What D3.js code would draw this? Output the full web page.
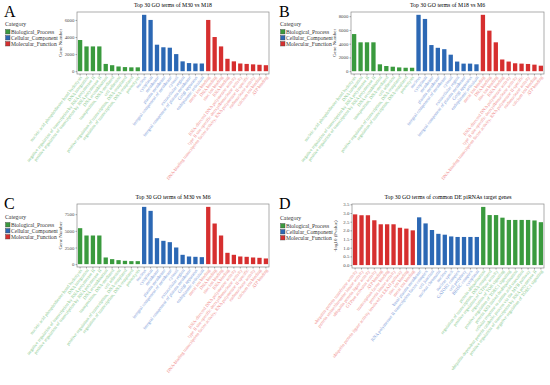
<!DOCTYPE html>
<html>
<head>
<meta charset="utf-8">
<script src="https://cdn.jsdelivr.net/npm/d3@7"></script>
<style>
body { margin: 0; background: #fff; }
text { font-family: "Liberation Serif", "DejaVu Serif", serif; }
</style>
</head>
<body>
<svg id="fig" width="550" height="385"></svg>
<script>
var categories = ["Biological_Process", "Cellular_Component", "Molecular_Function"];

// GO terms used in panels A, B, C
var bpTerms = ["nucleic acid phosphodiester bond hydrolysis", "DNA integration",
	"negative regulation of transcription by RNA polymerase II",
	"positive regulation of transcription by RNA polymerase II",
	"DNA recombination", "transposition, DNA-mediated", "cell adhesion",
	"positive regulation of transcription, DNA-templated",
	"regulation of transcription, DNA-templated", "proteolysis"];
var ccTerms = ["nucleus", "cytoplasm", "membrane", "plasma membrane",
	"integral component of membrane", "cytosol", "extracellular region",
	"integral component of plasma membrane", "Golgi apparatus", "endoplasmic reticulum"];
var mfTerms = ["metal ion binding", "DNA binding", "zinc ion binding", "RNA binding",
	"RNA-directed DNA polymerase activity",
	"type II site-specific deoxyribonuclease activity",
	"DNA-binding transcription factor activity, RNA polymerase II-specific",
	"endonuclease activity", "calcium ion binding", "ATP binding"];

var aBP = [3650, 2900, 2900, 2900, 850, 700, 550, 480, 450, 450];
var aCC = [6600, 6000, 3100, 2800, 2750, 2000, 1150, 950, 900, 900];
var aMF = [6000, 4000, 2900, 1450, 1150, 900, 850, 800, 750, 700];

var bBP = [5400, 4200, 4200, 4200, 1000, 750, 650, 550, 500, 500];
var bCC = [8200, 7600, 3800, 3400, 3200, 2400, 1400, 1100, 1100, 1000];
var bMF = [8200, 5900, 4200, 1700, 1400, 1150, 1100, 1050, 950, 800];

var cBP = [5400, 4300, 4300, 4300, 1000, 750, 600, 500, 450, 450];
var cCC = [8600, 8000, 3900, 3500, 3300, 2500, 1400, 1150, 1100, 1050];
var cMF = [8600, 6100, 4300, 1700, 1400, 1150, 1100, 1000, 950, 850];

// panel D: common DE piRNA target genes
var dMFTerms = ["ubiquitin-protein transferase activity", "protein serine/threonine kinase activity",
	"ubiquitin protein ligase activity", "GTPase activator activity", "ATP binding",
	"transcription factor binding", "protein kinase activity",
	"ubiquitin protein ligase activity involved in ERAD pathway", "zinc ion binding", "metal ion binding"];
var dCCTerms = ["basal plasma membrane", "RNA polymerase II transcription factor complex",
	"cell junction", "nuclear chromatin", "nucleus", "nuclear speck", "GATOR2 complex",
	"cell periphery", "BRISC complex", "cytoplasm"];
var dBPTerms = ["protein ubiquitination", "regulation of transcription, DNA-templated",
	"positive regulation of GTPase activity", "regulation of TOR signaling",
	"positive regulation of TORC1 signaling", "protein K63-linked deubiquitination",
	"cellular response to amino acid starvation",
	"ubiquitin-dependent protein catabolic process via the MVB pathway",
	"positive regulation of transcription by RNA polymerase II",
	"negative regulation of TORC1 signaling"];
var dMF = [2.92, 2.87, 2.87, 2.58, 2.35, 2.35, 2.35, 2.15, 2.1, 2.0];
var dCC = [2.75, 2.4, 2.02, 1.8, 1.75, 1.65, 1.62, 1.62, 1.62, 1.62];
var dBP = [3.35, 2.88, 2.88, 2.73, 2.6, 2.6, 2.6, 2.6, 2.57, 2.47];

var ticksA = [0, 2000, 4000, 6000];
var ticksB = [0, 2000, 4000, 6000, 8000];
var ticksC = [0, 2500, 5000, 7500];
var ticksD = [0, 0.5, 1.0, 1.5, 2.0, 2.5, 3.0, 3.5];

var barColor = {"Biological_Process": "#3a9a3e", "Cellular_Component": "#2c68b4", "Molecular_Function": "#d62f2f"};
var textColor = {"Biological_Process": "#86c98c", "Cellular_Component": "#7d9bd8", "Molecular_Function": "#f08c8c"};

var svg = d3.select("#fig");

function rows(groups) {
	var out = [];
	groups.forEach(function(g) {
		g.terms.forEach(function(t, i) {
			out.push({term: t, value: g.values[i], cat: g.cat});
		});
	});
	return out;
}

function drawPanel(cfg) {
	var g = svg.append("g");
	var data = cfg.data;
	var x = d3.scaleBand()
		.domain(d3.range(data.length))
		.range([cfg.x0, cfg.x1])
		.paddingInner(0.33)
		.paddingOuter(0.15);
	var vmax = d3.max(data, function(d) { return d.value; });
	var y = d3.scaleLinear()
		.domain([-0.05 * vmax, 1.05 * vmax])
		.range([cfg.y1, cfg.y0]);

	g.append("text")
		.attr("x", cfg.lx)
		.attr("y", cfg.ly)
		.attr("font-size", 16)
		.text(cfg.letter);

	g.append("text")
		.attr("x", (cfg.x0 + cfg.x1) / 2)
		.attr("y", cfg.y0 - 5)
		.attr("text-anchor", "middle")
		.attr("font-size", 5.8)
		.text(cfg.title);

	g.append("rect")
		.attr("x", cfg.x0)
		.attr("y", cfg.y0)
		.attr("width", cfg.x1 - cfg.x0)
		.attr("height", cfg.y1 - cfg.y0)
		.attr("fill", "#fff")
		.attr("stroke", "#8a8a8a")
		.attr("stroke-width", 0.7);

	g.selectAll(".bar")
		.data(data)
		.enter()
		.append("rect")
		.attr("class", "bar")
		.attr("x", function(d, i) { return x(i); })
		.attr("width", x.bandwidth())
		.attr("y", function(d) { return y(d.value); })
		.attr("height", function(d) { return y(0) - y(d.value); })
		.attr("fill", function(d) { return barColor[d.cat]; });

	var yAxis = d3.axisLeft(y)
		.tickValues(cfg.ticks)
		.tickSize(1.5)
		.tickPadding(1.2)
		.tickFormat(cfg.fmt);
	g.append("g")
		.attr("transform", "translate(" + cfg.x0 + ",0)")
		.call(yAxis)
		.call(function(a) {
			a.select(".domain").remove();
			a.selectAll("line").attr("stroke", "#555").attr("stroke-width", 0.5);
			a.selectAll("text").attr("font-size", 4.8).attr("fill", "#444")
				.style("font-family", "Liberation Serif");
		});

	g.append("text")
		.attr("transform", "translate(" + (cfg.x0 - 15.5) + "," + ((cfg.y0 + cfg.y1) / 2) + ") rotate(-90)")
		.attr("text-anchor", "middle")
		.attr("font-size", 5)
		.attr("fill", "#333")
		.text(cfg.ylabel);

	g.selectAll(".xtick")
		.data(data)
		.enter()
		.append("line")
		.attr("x1", function(d, i) { return x(i) + x.bandwidth() / 2; })
		.attr("x2", function(d, i) { return x(i) + x.bandwidth() / 2; })
		.attr("y1", cfg.y1)
		.attr("y2", cfg.y1 + 1.5)
		.attr("stroke", "#555")
		.attr("stroke-width", 0.5);

	g.selectAll(".xlab")
		.data(data)
		.enter()
		.append("text")
		.attr("class", "xlab")
		.attr("transform", function(d, i) {
			return "translate(" + (x(i) + x.bandwidth() / 2 + 1) + "," + (cfg.y1 + 2.5) + ") rotate(-52)";
		})
		.attr("text-anchor", "end")
		.attr("dy", "0.35em")
		.attr("font-size", 4.6)
		.attr("fill", function(d) { return textColor[d.cat]; })
		.text(function(d) { return d.term; });

	var leg = g.append("g").attr("transform", "translate(" + cfg.legx + "," + cfg.legy + ")");
	leg.append("text")
		.attr("x", 0)
		.attr("y", 0)
		.attr("font-size", 5.8)
		.attr("fill", "#333")
		.text("Category");
	categories.forEach(function(c, i) {
		leg.append("rect")
			.attr("x", 0.5)
			.attr("y", 3.5 + i * 6)
			.attr("width", 4.5)
			.attr("height", 4.5)
			.attr("fill", barColor[c])
			.attr("stroke", "#444")
			.attr("stroke-width", 0.4);
		leg.append("text")
			.attr("x", 6)
			.attr("y", 7.8 + i * 6)
			.attr("font-size", 5.6)
			.attr("fill", "#333")
			.text(c);
	});
}

var commaFmt = d3.format("d");

drawPanel({
	letter: "A", lx: 4, ly: 17, title: "Top 30 GO terms of M30 vs M18",
	x0: 77, x1: 269, y0: 12, y1: 74, legx: 5, legy: 26,
	ticks: ticksA, fmt: commaFmt, ylabel: "Gene Number",
	data: rows([{cat: categories[0], terms: bpTerms, values: aBP},
		{cat: categories[1], terms: ccTerms, values: aCC},
		{cat: categories[2], terms: mfTerms, values: aMF}])
});
drawPanel({
	letter: "B", lx: 279, ly: 17, title: "Top 30 GO terms of M18 vs M6",
	x0: 351, x1: 544, y0: 12, y1: 74, legx: 280, legy: 26,
	ticks: ticksB, fmt: commaFmt, ylabel: "Gene Number",
	data: rows([{cat: categories[0], terms: bpTerms, values: bBP},
		{cat: categories[1], terms: ccTerms, values: bCC},
		{cat: categories[2], terms: mfTerms, values: bMF}])
});
drawPanel({
	letter: "C", lx: 4, ly: 209, title: "Top 30 GO terms of M30 vs M6",
	x0: 77, x1: 269, y0: 204, y1: 267, legx: 5, legy: 219,
	ticks: ticksC, fmt: commaFmt, ylabel: "Gene Number",
	data: rows([{cat: categories[0], terms: bpTerms, values: cBP},
		{cat: categories[1], terms: ccTerms, values: cCC},
		{cat: categories[2], terms: mfTerms, values: cMF}])
});
drawPanel({
	letter: "D", lx: 279, ly: 209, title: "Top 30 GO terms of common DE piRNAs target genes",
	x0: 352, x1: 544, y0: 204, y1: 268, legx: 280, legy: 220,
	ticks: ticksD, fmt: d3.format(".1f"), ylabel: "-log10 (Pvalue)",
	data: rows([{cat: categories[2], terms: dMFTerms, values: dMF},
		{cat: categories[1], terms: dCCTerms, values: dCC},
		{cat: categories[0], terms: dBPTerms, values: dBP}])
});
</script>
</body>
</html>
